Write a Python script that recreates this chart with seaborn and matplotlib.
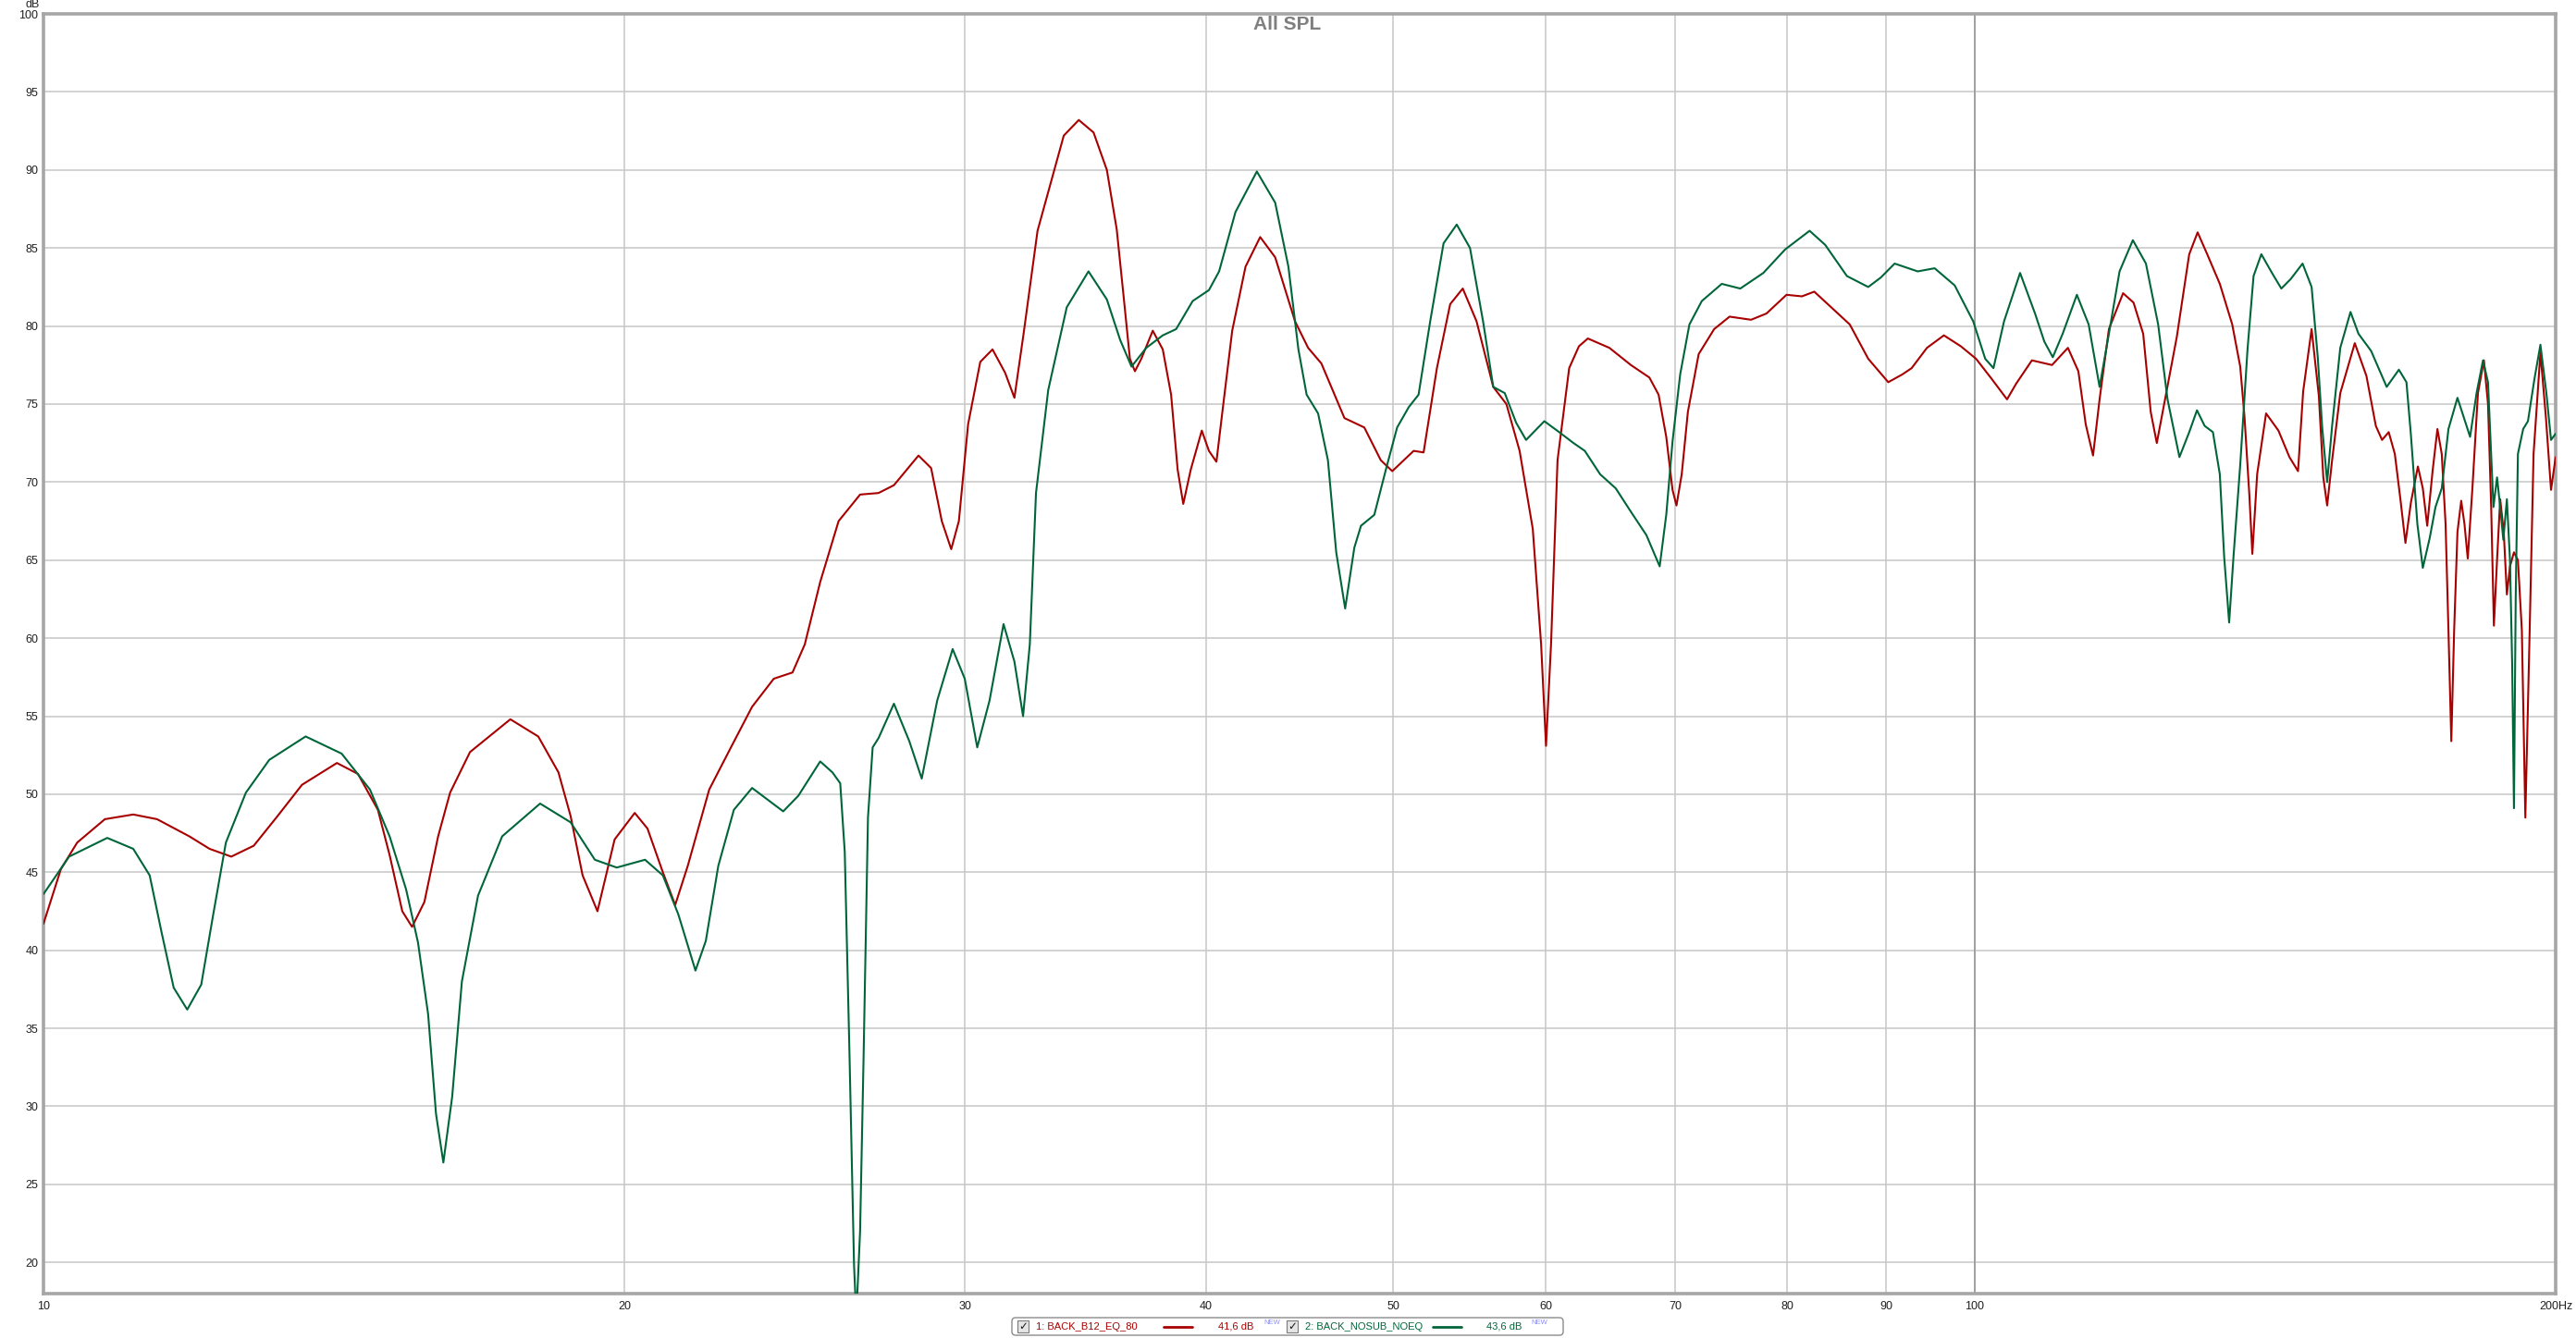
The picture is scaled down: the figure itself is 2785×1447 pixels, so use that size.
import pandas as pd
import seaborn as sns
from matplotlib import pyplot as plt
from matplotlib.patches import FancyBboxPatch, Rectangle

red_freq = [10.0, 10.21, 10.41, 10.76, 11.13, 11.45, 11.9, 12.19, 12.51, 12.85, 13.22, 13.61,
            14.19, 14.55, 14.9, 15.11, 15.34, 15.52, 15.75, 16.01, 16.24, 16.63, 17.45, 18.04,
            18.48, 18.75, 19.02, 19.36, 19.76, 20.24, 20.55, 20.93, 21.24, 21.56, 22.12, 22.7,
            23.28, 23.89, 24.43, 24.79, 25.25, 25.81, 26.48, 27.07, 27.57, 28.39, 28.82, 29.19,
            29.52, 29.79, 30.12, 30.56, 31.01, 31.48, 31.83, 32.18, 32.72, 33.76, 34.37, 34.98,
            35.54, 35.96, 36.25, 36.53, 36.75, 37.03, 37.54, 37.99, 38.37, 38.67, 38.93, 39.28,
            39.8, 40.14, 40.5, 40.78, 41.27, 41.93, 42.67, 43.44, 44.48, 45.18, 45.9, 47.18,
            47.74, 48.31, 49.27, 49.95, 50.64, 51.24, 51.85, 52.68, 53.52, 54.33, 55.23, 56.34,
            57.23, 58.14, 59.06, 59.65, 60.0, 60.36, 60.83, 61.68, 62.4, 63.07, 64.71, 66.39,
            67.87, 68.62, 69.25, 69.77, 70.1, 70.54, 71.06, 71.98, 73.32, 74.68, 76.62, 78.04,
            79.93, 81.41, 82.62, 84.3, 86.19, 88.11, 90.24, 91.77, 92.79, 94.5, 96.43, 98.4,
            100.2, 102.1, 103.97, 105.1, 107.1, 109.7, 111.8, 113.2, 114.2, 115.2, 116.1, 117.4,
            119.4, 120.9, 122.3, 123.4, 124.3, 125.4, 127.3, 129.2, 130.5, 132.0, 134.0, 136.0,
            137.3, 138.0, 138.8, 139.3, 140.1, 141.6, 143.7, 145.6, 147.1, 148.0, 149.5, 150.8,
            151.6, 152.3, 153.2, 154.7, 157.4, 159.6, 161.4, 162.6, 163.9, 165.1, 166.2, 167.2,
            168.3, 169.7, 170.7, 171.6, 172.7, 173.7, 174.6, 175.4, 176.0, 176.6, 177.2, 177.9,
            178.7, 179.4, 180.1, 181.1, 182.3, 183.6, 184.5, 185.2, 185.8, 186.5, 187.2, 188.0,
            188.7, 189.4, 190.3, 191.2, 192.1, 192.9, 193.9, 194.8, 196.4, 197.7, 198.9, 200.0]
red_spl = [41.7, 45.2, 46.9, 48.4, 48.7, 48.4, 47.3, 46.5, 46.0, 46.7, 48.6, 50.6,
           52.0, 51.3, 49.0, 46.1, 42.5, 41.5, 43.1, 47.3, 50.1, 52.7, 54.8, 53.7,
           51.4, 48.6, 44.8, 42.5, 47.1, 48.8, 47.8, 45.0, 42.9, 45.4, 50.3, 53.0,
           55.6, 57.4, 57.8, 59.6, 63.6, 67.5, 69.2, 69.3, 69.8, 71.7, 70.9, 67.5,
           65.7, 67.5, 73.7, 77.7, 78.5, 77.0, 75.4, 79.5, 86.1, 92.2, 93.2, 92.4,
           90.0, 86.2, 82.0, 77.9, 77.1, 77.9, 79.7, 78.5, 75.6, 70.8, 68.6, 70.8,
           73.3, 72.0, 71.3, 74.4, 79.7, 83.8, 85.7, 84.4, 80.3, 78.6, 77.6, 74.1,
           73.8, 73.5, 71.4, 70.7, 71.4, 72.0, 71.9, 77.3, 81.4, 82.4, 80.3, 76.1,
           75.0, 72.0, 67.0, 59.6, 53.1, 59.6, 71.4, 77.3, 78.7, 79.2, 78.6, 77.5,
           76.7, 75.6, 72.9, 69.5, 68.5, 70.5, 74.5, 78.2, 79.8, 80.6, 80.4, 80.8,
           82.0, 81.9, 82.2, 81.2, 80.1, 77.9, 76.4, 76.9, 77.3, 78.6, 79.4, 78.7,
           77.9, 76.6, 75.3, 76.3, 77.8, 77.5, 78.6, 77.1, 73.7, 71.7, 75.3, 79.8,
           82.1, 81.5, 79.5, 74.5, 72.5, 75.0, 79.3, 84.6, 86.0, 84.6, 82.7, 80.1,
           77.4, 74.2, 69.2, 65.4, 70.5, 74.4, 73.3, 71.6, 70.7, 75.8, 79.8, 75.5,
           70.3, 68.5, 71.4, 75.7, 78.9, 76.8, 73.6, 72.7, 73.2, 71.8, 68.9, 66.1,
           68.7, 71.0, 69.6, 67.2, 70.7, 73.4, 71.8, 67.3, 60.5, 53.4, 60.5, 66.8,
           68.8, 67.3, 65.1, 69.6, 75.7, 77.8, 75.0, 68.4, 60.8, 65.0, 68.9, 66.8,
           62.8, 64.6, 65.5, 65.0, 60.5, 48.5, 60.5, 71.8, 78.3, 74.1, 69.5, 71.6]

green_freq = [10.0, 10.31, 10.79, 11.13, 11.35, 11.51, 11.68, 11.87, 12.07, 12.24, 12.43, 12.73,
              13.09, 13.67, 14.27, 14.76, 15.11, 15.41, 15.63, 15.82, 15.97, 16.11, 16.28, 16.47,
              16.79, 17.28, 18.08, 18.75, 19.3, 19.81, 20.49, 20.93, 21.32, 21.76, 22.03, 22.36,
              22.78, 23.28, 24.16, 24.6, 25.25, 25.62, 25.86, 26.0, 26.15, 26.29, 26.36, 26.48,
              26.59, 26.73, 26.88, 27.07, 27.57, 28.08, 28.5, 29.03, 29.57, 30.0, 30.45, 30.9,
              31.42, 31.83, 32.16, 32.42, 32.66, 33.14, 33.88, 34.77, 35.54, 36.11, 36.6, 37.25,
              37.99, 38.6, 39.37, 40.14, 40.63, 41.43, 42.5, 43.44, 44.13, 44.66, 45.1, 45.72,
              46.26, 46.72, 47.22, 47.74, 48.12, 48.89, 49.57, 50.24, 50.94, 51.54, 52.26, 53.1,
              53.94, 54.8, 55.66, 56.34, 57.12, 57.9, 58.59, 59.88, 60.95, 62.0, 62.84, 64.0,
              65.2, 66.39, 67.63, 68.71, 69.25, 69.77, 70.41, 71.19, 72.25, 73.99, 75.64, 77.75,
              79.79, 82.16, 83.7, 85.9, 88.11, 89.43, 90.93, 93.46, 95.37, 97.68, 99.86, 101.3,
              102.3, 103.6, 105.6, 107.5, 108.7, 109.8, 111.1, 113.0, 114.6, 116.1, 117.4, 118.9,
              120.8, 122.7, 124.5, 125.9, 127.7, 129.2, 130.4, 131.6, 132.9, 134.0, 134.7, 135.5,
              136.2, 137.3, 138.5, 139.5, 140.8, 142.6, 144.2, 145.8, 147.9, 149.5, 150.6, 151.4,
              152.3, 153.2, 154.7, 156.6, 158.1, 160.5, 163.5, 165.9, 167.4, 168.3, 169.6, 170.7,
              172.1, 173.3, 174.6, 176.0, 177.9, 179.3, 180.6, 182.0, 183.4, 184.5, 185.7, 186.5,
              187.2, 187.9, 188.7, 189.4, 189.9, 190.3, 190.7, 191.2, 192.4, 193.5, 195.0, 196.4,
              197.8, 198.9, 200.0]
green_spl = [43.6, 46.0, 47.2, 46.5, 44.8, 41.2, 37.6, 36.2, 37.8, 42.2, 46.9, 50.1,
             52.2, 53.7, 52.6, 50.3, 47.3, 43.9, 40.5, 35.9, 29.5, 26.4, 30.6, 38.0,
             43.5, 47.3, 49.4, 48.2, 45.8, 45.3, 45.8, 44.8, 42.3, 38.7, 40.6, 45.4,
             49.0, 50.4, 48.9, 49.9, 52.1, 51.4, 50.7, 46.3, 33.1, 19.8, 16.5, 22.0,
             33.1, 48.5, 53.0, 53.6, 55.8, 53.4, 51.0, 56.0, 59.3, 57.4, 53.0, 56.0,
             60.9, 58.5, 55.0, 59.6, 69.3, 75.9, 81.2, 83.5, 81.7, 79.1, 77.4, 78.6,
             79.4, 79.8, 81.6, 82.3, 83.5, 87.3, 89.9, 87.9, 83.8, 78.5, 75.6, 74.4,
             71.4, 65.5, 61.9, 65.8, 67.2, 67.9, 70.8, 73.5, 74.8, 75.6, 80.3, 85.3,
             86.5, 85.0, 80.3, 76.1, 75.7, 73.8, 72.7, 73.9, 73.2, 72.5, 72.0, 70.5,
             69.6, 68.1, 66.6, 64.6, 67.9, 72.6, 76.9, 80.1, 81.6, 82.7, 82.4, 83.4,
             84.9, 86.1, 85.2, 83.2, 82.5, 83.1, 84.0, 83.5, 83.7, 82.6, 80.3, 77.9,
             77.3, 80.3, 83.4, 80.8, 79.0, 78.0, 79.5, 82.0, 80.1, 76.1, 79.5, 83.5,
             85.5, 84.0, 80.1, 75.3, 71.6, 73.2, 74.6, 73.6, 73.2, 70.5, 65.2, 61.0,
             65.2, 71.1, 78.5, 83.2, 84.6, 83.4, 82.4, 83.0, 84.0, 82.5, 78.0, 73.5,
             70.0, 73.6, 78.6, 80.9, 79.5, 78.4, 76.1, 77.2, 76.4, 73.0, 67.3, 64.5,
             66.4, 68.4, 69.6, 73.4, 75.4, 74.1, 72.9, 75.7, 77.8, 76.4, 68.4, 70.3,
             68.4, 66.3, 68.9, 65.0, 58.2, 49.1, 62.7, 71.8, 73.4, 73.9, 76.6, 78.8,
             75.7, 72.7, 73.1]

x_ticks = [10, 20, 30, 40, 50, 60, 70, 80, 90, 100, 200]
x_labels = ["10", "20", "30", "40", "50", "60", "70", "80", "90", "100", "200Hz"]
y_ticks = list(range(20, 101, 5))

names = ["1: BACK_B12_EQ_80", "2: BACK_NOSUB_NOEQ"]
levels = ["41,6 dB", "43,6 dB"]
RED = "#a80000"
GREEN = "#00663a"

sns.set_style("white")
plt.rcParams['font.family'] = ['Liberation Sans', 'DejaVu Sans']

W, H = 2785, 1447
fig = plt.figure(figsize=(W / 100, H / 100), dpi=100)
ax = fig.add_axes([47 / W, 1 - 1399 / H, (2763 - 47) / W, (1399 - 15) / H])

red_df = pd.DataFrame({"freq": red_freq, "spl": red_spl})
green_df = pd.DataFrame({"freq": green_freq, "spl": green_spl})
sns.lineplot(data=red_df, x="freq", y="spl", color=RED, linewidth=1.5,
             estimator=None, sort=False, ax=ax, zorder=3)
sns.lineplot(data=green_df, x="freq", y="spl", color=GREEN, linewidth=1.5,
             estimator=None, sort=False, ax=ax, zorder=3)

ax.set_xscale("log")
ax.set_xlim(10, 200)
ax.set_ylim(18, 100)
ax.set_xticks(x_ticks)
ax.set_xticklabels(x_labels)
ax.xaxis.set_minor_locator(plt.NullLocator())
ax.set_yticks(y_ticks)
ax.set_xlabel("")
ax.set_ylabel("")
ax.tick_params(axis="both", length=0, labelsize=9, labelcolor="#202020")
ax.tick_params(axis="x", pad=6)
ax.tick_params(axis="y", pad=4)
ax.grid(True, color="#c6c6c6", linewidth=1.1, zorder=0)
ax.axvline(100, color="#a0a0a0", linewidth=1.4, zorder=1)
for s in ax.spines.values():
    s.set_color("#a6a6a6")
    s.set_linewidth(2.6)

# overlay in pixel coordinates for header and legend
ov = fig.add_axes([0, 0, 1, 1], facecolor="none")
ov.set_xlim(0, W)
ov.set_ylim(H, 0)
ov.axis("off")

ov.text(1392, 27, "All SPL", ha="center", va="center", fontsize=15,
        fontweight="bold", color="#7f7f7f")
ov.text(35, 5, "dB", ha="center", va="center", fontsize=9, color="#202020")

ov.add_patch(FancyBboxPatch((1094, 1425), 596, 19, boxstyle="round,pad=0,rounding_size=4",
                            fc="white", ec="#8c8c8c", lw=1.0))
items = [(1100, 1120, 1258, 1317, 1366, RED, names[0], levels[0]),
         (1391, 1411, 1549, 1607, 1655, GREEN, names[1], levels[1])]
ym = 1434.5
for cb, tx, lx, dx, nx, col, name, lev in items:
    ov.add_patch(Rectangle((cb, ym - 6.5), 12, 13, fc="#e4e4e4", ec="#7a7a7a", lw=0.8))
    ov.text(cb + 6, ym, "\u2713", ha="center", va="center", fontsize=8.5,
            color="#1a1a1a", family=["DejaVu Sans"], fontweight="bold")
    ov.text(tx, ym, name, ha="left", va="center", fontsize=8, color=col)
    ov.plot([lx, lx + 31], [ym, ym], color=col, linewidth=2)
    ov.text(dx, ym, lev, ha="left", va="center", fontsize=8, color=col)
    ov.text(nx, ym - 4, "NEW", ha="left", va="center", fontsize=5.5, color="#8a8aff")

fig.savefig("out.png", dpi=100)
